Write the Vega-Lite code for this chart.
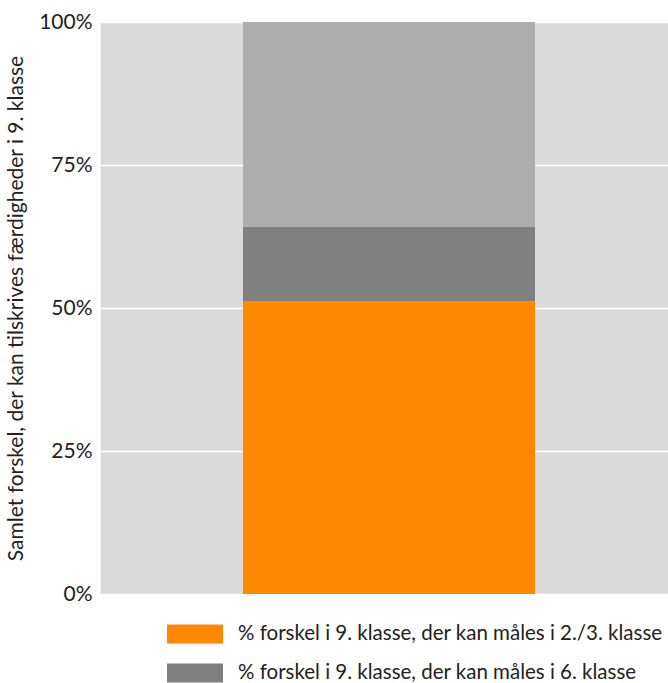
{
  "$schema": "https://vega.github.io/schema/vega-lite/v6.json",
  "width": 568,
  "height": 572,
  "autosize": "none",
  "padding": {"left": 100, "top": 22, "right": 0, "bottom": 89},
  "background": "white",
  "config": {
    "view": {"fill": "#dadada", "stroke": null},
    "font": "Lato"
  },
  "data": {
    "values": [
      {"group": "Samlet", "kategori": "% forskel i 9. klasse, der kan måles i 2./3. klasse", "andel": 0.512, "rank": 1},
      {"group": "Samlet", "kategori": "% forskel i 9. klasse, der kan måles i 6. klasse", "andel": 0.130, "rank": 2},
      {"group": "Samlet", "kategori": "Øvrig forskel", "andel": 0.358, "rank": 3}
    ]
  },
  "mark": {"type": "bar", "width": 292, "xOffset": 5},
  "encoding": {
    "x": {"field": "group", "type": "nominal", "axis": null},
    "y": {
      "field": "andel",
      "type": "quantitative",
      "stack": "zero",
      "scale": {"domain": [0, 1], "nice": false},
      "axis": {
        "title": "Samlet forskel, der kan tilskrives færdigheder i 9. klasse",
        "titleFontSize": 21,
        "titleFontWeight": "normal",
        "titleColor": "#222222",
        "titlePadding": 12,
        "values": [0, 0.25, 0.5, 0.75, 1],
        "format": ".0%",
        "labelFontSize": 21,
        "labelColor": "#222222",
        "labelPadding": 8,
        "ticks": false,
        "domain": true,
        "domainColor": "#f2f2f2",
        "gridColor": "#ffffff",
        "gridWidth": 1.5
      }
    },
    "color": {
      "field": "kategori",
      "type": "nominal",
      "scale": {
        "domain": ["% forskel i 9. klasse, der kan måles i 2./3. klasse", "% forskel i 9. klasse, der kan måles i 6. klasse", "Øvrig forskel"],
        "range": ["#ff8800", "#808080", "#adadad"]
      },
      "legend": {
        "title": null,
        "orient": "none",
        "legendX": 67,
        "legendY": 584,
        "values": ["% forskel i 9. klasse, der kan måles i 2./3. klasse", "% forskel i 9. klasse, der kan måles i 6. klasse"],
        "symbolType": "M-1,-0.34H1V0.34H-1Z",
        "symbolSize": 3136,
        "symbolStrokeWidth": 0,
        "symbolOpacity": 1,
        "labelFontSize": 20.5,
        "labelColor": "#222222",
        "labelOffset": 15,
        "labelLimit": 500,
        "rowPadding": -17,
        "padding": 0
      }
    },
    "order": {"field": "rank", "type": "quantitative"}
  }
}
